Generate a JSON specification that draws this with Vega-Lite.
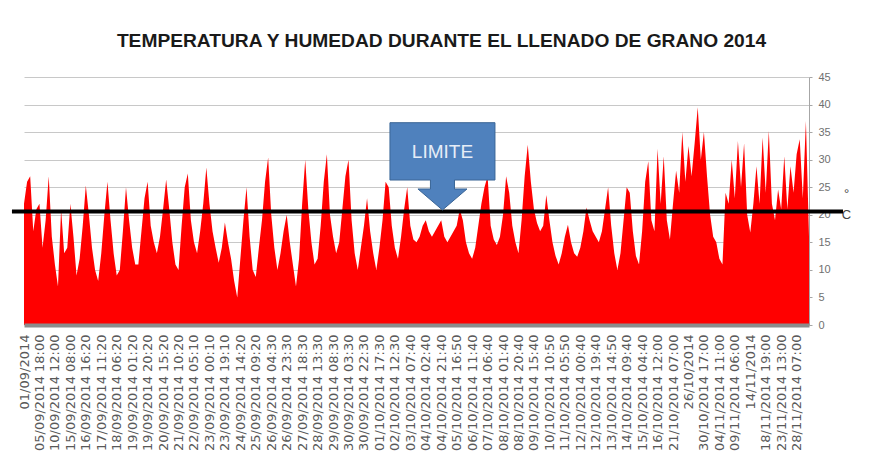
{
  "$schema": "https://vega.github.io/schema/vega-lite/v6.json",
  "width": 785,
  "height": 248,
  "autosize": {"type": "none"},
  "padding": {"left": 24, "top": 77, "right": 65, "bottom": 140},
  "background": "white",
  "title": {
    "text": "TEMPERATURA Y HUMEDAD DURANTE EL LLENADO DE GRANO 2014",
    "font": "Liberation Sans",
    "fontSize": 19.2,
    "fontWeight": "bold",
    "color": "#1a1a1a",
    "anchor": "middle",
    "frame": "group",
    "dx": 25,
    "offset": 20
  },
  "config": {"view": {"stroke": null}},
  "encoding": {
    "x": {
      "field": "i",
      "type": "quantitative",
      "scale": {"domain": [0, 254], "nice": false, "zero": false},
      "axis": {
        "orient": "bottom",
        "title": null,
        "values": [0,5,10,15,20,25,30,35,40,45,50,55,60,65,70,75,80,85,90,95,100,105,110,115,120,125,130,135,140,145,150,155,160,165,170,175,180,185,190,195,200,205,210,215,220,225,230,235,240,245,250],
        "labelExpr": "['01/09/2014','05/09/2014 18:00','10/09/2014 12:00','15/09/2014 08:00','16/09/2014 16:20','17/09/2014 11:20','18/09/2014 06:20','19/09/2014 01:20','19/09/2014 20:20','20/09/2014 15:20','21/09/2014 10:20','22/09/2014 05:10','23/09/2014 00:10','23/09/2014 19:10','24/09/2014 14:20','25/09/2014 09:20','26/09/2014 04:30','26/09/2014 23:30','27/09/2014 18:30','28/09/2014 13:30','29/09/2014 08:30','30/09/2014 03:30','30/09/2014 22:30','01/10/2014 17:30','02/10/2014 12:30','03/10/2014 07:40','04/10/2014 02:40','04/10/2014 21:40','05/10/2014 16:50','06/10/2014 11:40','07/10/2014 06:40','08/10/2014 01:40','08/10/2014 20:40','09/10/2014 15:40','10/10/2014 10:50','11/10/2014 05:50','12/10/2014 00:40','12/10/2014 19:40','13/10/2014 14:50','14/10/2014 09:40','15/10/2014 04:40','16/10/2014 12:00','21/10/2014 07:00','26/10/2014','30/10/2014 17:00','04/11/2014 11:00','09/11/2014 06:00','14/11/2014','18/11/2014 19:00','23/11/2014 13:00','28/11/2014 07:00'][round(datum.value/5)]",
        "labelAngle": -90,
        "labelFont": "DejaVu Sans",
        "labelFontSize": 13,
        "labelColor": "#595959",
        "labelPadding": 9,
        "labelOverlap": false,
        "labelFlush": false,
        "labelBound": false,
        "ticks": false,
        "grid": false,
        "domainColor": "#8c8c8c",
        "domainWidth": 4,
        "zindex": 1
      }
    },
    "y": {
      "field": "v",
      "type": "quantitative",
      "scale": {"domain": [0, 45], "nice": false},
      "axis": {
        "orient": "right",
        "values": [0,5,10,15,20,25,30,35,40,45],
        "title": ["°", "C"],
        "titleAngle": 0,
        "titleX": 37,
        "titleY": 120,
        "titleAlign": "center",
        "titleBaseline": "alphabetic",
        "titleLineHeight": 21,
        "titleFont": "Liberation Sans",
        "titleFontSize": 13,
        "titleFontWeight": "normal",
        "titleColor": "#444444",
        "labelFont": "Liberation Sans",
        "labelFontSize": 11,
        "labelColor": "#707070",
        "labelPadding": 6,
        "tickSize": 3,
        "tickColor": "#a6a6a6",
        "domainColor": "#a6a6a6",
        "grid": true,
        "gridColor": "#c8c8c8",
        "gridWidth": 1
      }
    }
  },
  "layer": [
    {
      "data": {"values": [
        {"i":0,"v":22},{"i":1,"v":26},{"i":2,"v":27},{"i":3,"v":17},{"i":4,"v":21},{"i":5,"v":22},{"i":6,"v":14},{"i":7,"v":19},{"i":8,"v":27},{"i":9,"v":16},
        {"i":10,"v":11},{"i":11,"v":7},{"i":12,"v":21},{"i":13,"v":13},{"i":14,"v":14},{"i":15,"v":22},{"i":16,"v":16},{"i":17,"v":9},{"i":18,"v":12},{"i":19,"v":18},
        {"i":20,"v":25.3},{"i":21,"v":20},{"i":22,"v":14},{"i":23,"v":10},{"i":24,"v":8},{"i":25,"v":13},{"i":26,"v":20},{"i":27,"v":26},{"i":28,"v":19},{"i":29,"v":13},
        {"i":30,"v":9},{"i":31,"v":10},{"i":32,"v":17},{"i":33,"v":25},{"i":34,"v":19},{"i":35,"v":14},{"i":36,"v":11},{"i":37,"v":11},{"i":38,"v":17},{"i":39,"v":23},
        {"i":40,"v":26},{"i":41,"v":18},{"i":42,"v":15},{"i":43,"v":13},{"i":44,"v":16},{"i":45,"v":21},{"i":46,"v":26.4},{"i":47,"v":21},{"i":48,"v":15},{"i":49,"v":11},
        {"i":50,"v":10},{"i":51,"v":18},{"i":52,"v":25},{"i":53,"v":27.5},{"i":54,"v":19},{"i":55,"v":15},{"i":56,"v":13},{"i":57,"v":17},{"i":58,"v":22},{"i":59,"v":28.6},
        {"i":60,"v":22},{"i":61,"v":17},{"i":62,"v":14},{"i":63,"v":11.3},{"i":64,"v":14},{"i":65,"v":18.6},{"i":66,"v":15},{"i":67,"v":12},{"i":68,"v":8},{"i":69,"v":5},
        {"i":70,"v":12},{"i":71,"v":19},{"i":72,"v":25},{"i":73,"v":16},{"i":74,"v":10},{"i":75,"v":8.7},{"i":76,"v":14},{"i":77,"v":19},{"i":78,"v":26},{"i":79,"v":30.4},
        {"i":80,"v":20},{"i":81,"v":14},{"i":82,"v":10},{"i":83,"v":13},{"i":84,"v":17},{"i":85,"v":20},{"i":86,"v":15},{"i":87,"v":11},{"i":88,"v":7},{"i":89,"v":12},
        {"i":90,"v":22},{"i":91,"v":30},{"i":92,"v":21},{"i":93,"v":15},{"i":94,"v":11},{"i":95,"v":12},{"i":96,"v":18},{"i":97,"v":26},{"i":98,"v":31},{"i":99,"v":20},
        {"i":100,"v":16},{"i":101,"v":13},{"i":102,"v":15},{"i":103,"v":21},{"i":104,"v":27},{"i":105,"v":30},{"i":106,"v":19},{"i":107,"v":13},{"i":108,"v":10},{"i":109,"v":14},
        {"i":110,"v":18},{"i":111,"v":23},{"i":112,"v":17},{"i":113,"v":13},{"i":114,"v":10},{"i":115,"v":14},{"i":116,"v":19},{"i":117,"v":26},{"i":118,"v":25},{"i":119,"v":18},
        {"i":120,"v":14},{"i":121,"v":12},{"i":122,"v":16},{"i":123,"v":21},{"i":124,"v":25},{"i":125,"v":18},{"i":126,"v":15.5},{"i":127,"v":15},{"i":128,"v":16},{"i":129,"v":18},
        {"i":130,"v":19},{"i":131,"v":17},{"i":132,"v":16},{"i":133,"v":17},{"i":134,"v":18},{"i":135,"v":19},{"i":136,"v":16},{"i":137,"v":15},{"i":138,"v":16},{"i":139,"v":17},
        {"i":140,"v":18},{"i":141,"v":21},{"i":142,"v":19},{"i":143,"v":15},{"i":144,"v":13},{"i":145,"v":12},{"i":146,"v":14},{"i":147,"v":18},{"i":148,"v":22},{"i":149,"v":25},
        {"i":150,"v":27},{"i":151,"v":18},{"i":152,"v":15.5},{"i":153,"v":14.5},{"i":154,"v":16},{"i":155,"v":20},{"i":156,"v":27},{"i":157,"v":24},{"i":158,"v":18},{"i":159,"v":15},
        {"i":160,"v":13},{"i":161,"v":19},{"i":162,"v":27},{"i":163,"v":32.7},{"i":164,"v":26},{"i":165,"v":21},{"i":166,"v":18.5},{"i":167,"v":17},{"i":168,"v":18},{"i":169,"v":23.6},
        {"i":170,"v":19},{"i":171,"v":15},{"i":172,"v":12.5},{"i":173,"v":11},{"i":174,"v":13},{"i":175,"v":16},{"i":176,"v":18.2},{"i":177,"v":15},{"i":178,"v":13},{"i":179,"v":12.4},
        {"i":180,"v":14},{"i":181,"v":17},{"i":182,"v":21.3},{"i":183,"v":19},{"i":184,"v":17},{"i":185,"v":16},{"i":186,"v":15},{"i":187,"v":17},{"i":188,"v":21},{"i":189,"v":25},
        {"i":190,"v":18},{"i":191,"v":13},{"i":192,"v":10},{"i":193,"v":13},{"i":194,"v":19},{"i":195,"v":25},{"i":196,"v":24},{"i":197,"v":17},{"i":198,"v":12.5},{"i":199,"v":11},
        {"i":200,"v":17},{"i":201,"v":26},{"i":202,"v":29.7},{"i":203,"v":19},{"i":204,"v":17},{"i":205,"v":32},{"i":206,"v":22},{"i":207,"v":30.6},{"i":208,"v":19},{"i":209,"v":15.5},
        {"i":210,"v":22},{"i":211,"v":28},{"i":212,"v":24},{"i":213,"v":35},{"i":214,"v":26},{"i":215,"v":32.5},{"i":216,"v":27},{"i":217,"v":33},{"i":218,"v":39.5},{"i":219,"v":30},
        {"i":220,"v":35},{"i":221,"v":27},{"i":222,"v":20},{"i":223,"v":16},{"i":224,"v":15},{"i":225,"v":12},{"i":226,"v":11},{"i":227,"v":24},{"i":228,"v":22},{"i":229,"v":30},
        {"i":230,"v":23},{"i":231,"v":33.4},{"i":232,"v":25},{"i":233,"v":33},{"i":234,"v":20},{"i":235,"v":16.8},{"i":236,"v":22},{"i":237,"v":28.8},{"i":238,"v":22},{"i":239,"v":34},
        {"i":240,"v":24},{"i":241,"v":35.2},{"i":242,"v":22},{"i":243,"v":19},{"i":244,"v":24.6},{"i":245,"v":21},{"i":246,"v":30.6},{"i":247,"v":21},{"i":248,"v":28.8},{"i":249,"v":24},
        {"i":250,"v":31},{"i":251,"v":33.7},{"i":252,"v":23},{"i":253,"v":37},{"i":254,"v":16}
      ]},
      "mark": {"type": "area", "color": "#ff0000", "interpolate": "linear"},
      "encoding": {}
    },
    {
      "data": {"values": [{"i": -3.9, "i2": 265, "v": 20.6}]},
      "mark": {"type": "rule", "color": "#000000", "strokeWidth": 4},
      "encoding": {"x2": {"field": "i2"}}
    },
    {
      "data": {"values": [{"i": 135.4, "v": 28.85}]},
      "mark": {
        "type": "point",
        "shape": "M -1 -0.825 L 1 -0.825 L 1 0.267 L 0.229 0.267 L 0.229 0.438 L 0.467 0.438 L 0 0.838 L -0.467 0.438 L -0.229 0.438 L -0.229 0.267 L -1 0.267 Z",
        "size": 11025,
        "filled": true,
        "fill": "#4f81bd",
        "stroke": "#3a6596",
        "strokeWidth": 1,
        "opacity": 1
      },
      "encoding": {}
    },
    {
      "data": {"values": [{"i": 135.4, "v": 31.4, "label": "LIMITE"}]},
      "mark": {
        "type": "text",
        "font": "Liberation Sans",
        "fontSize": 19,
        "color": "#e6edf7",
        "align": "center",
        "baseline": "middle"
      },
      "encoding": {"text": {"field": "label"}}
    }
  ]
}
